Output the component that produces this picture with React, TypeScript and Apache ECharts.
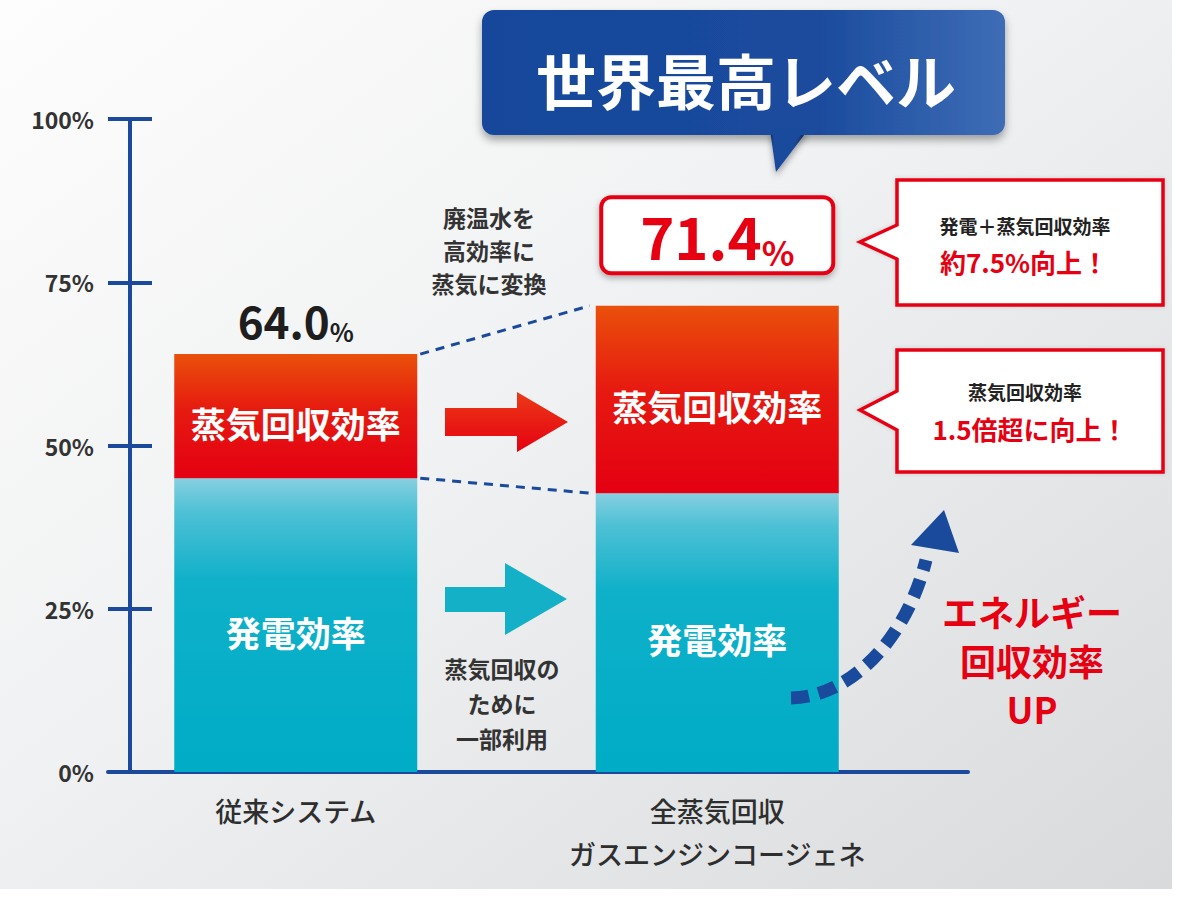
import React, { useEffect, useRef } from "react";
import * as echarts from "echarts";

const categories = ["従来システム", "全蒸気回収\nガスエンジンコージェネ"];
const powerEff = [45.0, 42.7];
const steamEff = [19.0, 28.7];
const totals = [64.0, 71.4];
const yMin = 0;
const yMax = 100;
const yStep = 25;
const upLines = ["エネルギー", "回収効率", "UP"];

const FONT = "'Noto Sans CJK JP', 'Noto Sans', sans-serif";
const NAVY = "#1b4a9c";
const RED = "#e60012";
const BAR_W = 243;

export default function App() {
  const ref = useRef<HTMLDivElement>(null);

  useEffect(() => {
    if (!ref.current) return;
    const chart = echarts.init(ref.current, undefined, { renderer: "svg" });

    const grad = (stops: [number, string][]) =>
      new echarts.graphic.LinearGradient(
        0, 0, 0, 1,
        stops.map(([offset, color]) => ({ offset, color }))
      );

    const upTexts = upLines.map((t, i) => ({
      type: "text",
      z: 101,
      style: {
        text: t,
        x: 1032,
        y: 611 + i * 48.5,
        textAlign: "center",
        textVerticalAlign: "middle",
        fill: RED,
        fontFamily: FONT,
        fontWeight: "bold",
        fontSize: 36,
      },
    }));

    const option: any = {
      animation: false,
      backgroundColor: "#ffffff",
      grid: [
        { left: 85, right: 252, top: 119, bottom: 144 },
        { left: 108, right: 212, top: 119, bottom: 144 },
      ],
      xAxis: [
        {
          type: "category",
          gridIndex: 0,
          data: categories,
          axisLine: { show: false },
          axisTick: { show: false },
          axisLabel: {
            margin: 17,
            color: "#2e2e2e",
            fontFamily: FONT,
            fontWeight: 500,
            fontSize: 27,
            lineHeight: 43,
          },
        },
        {
          type: "value",
          gridIndex: 1,
          min: 0,
          max: 1,
          axisLine: { show: true, onZero: false, lineStyle: { color: NAVY, width: 4 } },
          axisTick: { show: false },
          axisLabel: { show: false },
          splitLine: { show: false },
        },
      ],
      yAxis: [
        {
          type: "value",
          gridIndex: 0,
          min: yMin,
          max: yMax,
          interval: yStep,
          offset: -45,
          axisLine: { show: true, lineStyle: { color: NAVY, width: 4 } },
          axisTick: { show: true, length: 22, lineStyle: { color: NAVY, width: 4 } },
          splitLine: { show: false },
          axisLabel: {
            margin: 36,
            color: "#333",
            fontFamily: FONT,
            fontSize: 23,
            fontWeight: "bold",
            formatter: (v: number) => `${v}%`,
          },
        },
        {
          type: "value",
          gridIndex: 0,
          min: yMin,
          max: yMax,
          interval: yStep,
          offset: -45,
          position: "left",
          axisLine: { show: true, lineStyle: { color: NAVY, width: 4 } },
          axisTick: { show: true, inside: true, length: 22, lineStyle: { color: NAVY, width: 4 } },
          splitLine: { show: false },
          axisLabel: { show: false },
        },
        {
          type: "value",
          gridIndex: 1,
          min: 0,
          max: 1,
          show: false,
        },
      ],
      graphic: [
        {
          type: "rect",
          z: -100,
          silent: true,
          shape: { x: 0, y: 0, width: 1172, height: 889 },
          style: {
            fill: new echarts.graphic.LinearGradient(0, 0, 1, 1, [
              { offset: 0, color: "#fdfdfd" },
              { offset: 0.45, color: "#f0f1f2" },
              { offset: 1, color: "#d8dadc" },
            ]),
          },
        },
        // blue callout
        {
          type: "polygon",
          z: 100,
          shape: { points: [[770, 130], [808, 130], [776, 172]] },
          style: { fill: "#1a4a9b", shadowBlur: 6, shadowOffsetY: 4, shadowColor: "rgba(0,0,0,0.35)" },
        },
        {
          type: "rect",
          z: 101,
          shape: { x: 482, y: 10, width: 523, height: 125, r: 12 },
          style: {
            fill: new echarts.graphic.LinearGradient(0, 0, 1, 0, [
              { offset: 0, color: "#16479a" },
              { offset: 0.65, color: "#1b4c9e" },
              { offset: 1, color: "#3e6db6" },
            ]),
            shadowBlur: 8,
            shadowOffsetY: 5,
            shadowColor: "rgba(0,0,0,0.35)",
          },
        },
        {
          type: "polygon",
          z: 102,
          shape: { points: [[772, 128], [806, 128], [776, 170]] },
          style: { fill: "#1a4a9b" },
        },
        {
          type: "text",
          z: 103,
          style: {
            text: "世界最高レベル",
            x: 746,
            y: 78,
            textAlign: "center",
            textVerticalAlign: "middle",
            fill: "#ffffff",
            fontFamily: FONT,
            fontWeight: "bold",
            fontSize: 60,
          },
        },
        // red callout 1
        {
          type: "polygon",
          z: 100,
          shape: { points: [[897, 180], [1163, 180], [1163, 305], [897, 305], [897, 259], [860, 242], [897, 225]] },
          style: { fill: "#ffffff", stroke: RED, lineWidth: 3.5, shadowBlur: 4, shadowColor: "rgba(0,0,0,0.15)" },
        },
        {
          type: "text",
          z: 101,
          style: {
            text: "発電＋蒸気回収効率",
            x: 1025,
            y: 225,
            textAlign: "center",
            textVerticalAlign: "middle",
            fill: "#222",
            fontFamily: FONT,
            fontWeight: "bold",
            fontSize: 19,
          },
        },
        {
          type: "text",
          z: 101,
          style: {
            text: "約7.5%向上！",
            x: 1024,
            y: 261,
            textAlign: "center",
            textVerticalAlign: "middle",
            fill: RED,
            fontFamily: FONT,
            fontWeight: "bold",
            fontSize: 26,
          },
        },
        // red callout 2
        {
          type: "polygon",
          z: 100,
          shape: { points: [[897, 350], [1163, 350], [1163, 472], [897, 472], [897, 430], [860, 410], [897, 391]] },
          style: { fill: "#ffffff", stroke: RED, lineWidth: 3.5, shadowBlur: 4, shadowColor: "rgba(0,0,0,0.15)" },
        },
        {
          type: "text",
          z: 101,
          style: {
            text: "蒸気回収効率",
            x: 1025,
            y: 391,
            textAlign: "center",
            textVerticalAlign: "middle",
            fill: "#222",
            fontFamily: FONT,
            fontWeight: "bold",
            fontSize: 19,
          },
        },
        {
          type: "text",
          z: 101,
          style: {
            text: "1.5倍超に向上！",
            x: 1030,
            y: 428,
            textAlign: "center",
            textVerticalAlign: "middle",
            fill: RED,
            fontFamily: FONT,
            fontWeight: "bold",
            fontSize: 26,
          },
        },
        // middle annotations
        {
          type: "text",
          z: 101,
          style: {
            text: "廃温水を\n高効率に\n蒸気に変換",
            x: 489,
            y: 250,
            textAlign: "center",
            textVerticalAlign: "middle",
            fill: "#333",
            fontFamily: FONT,
            fontWeight: "bold",
            fontSize: 23,
            lineHeight: 33,
          },
        },
        {
          type: "text",
          z: 101,
          style: {
            text: "蒸気回収の\nために\n一部利用",
            x: 502,
            y: 703,
            textAlign: "center",
            textVerticalAlign: "middle",
            fill: "#333",
            fontFamily: FONT,
            fontWeight: "bold",
            fontSize: 23,
            lineHeight: 35,
          },
        },
        // arrows between bars
        {
          type: "polygon",
          z: 101,
          shape: { points: [[445, 408], [517, 408], [517, 392], [568, 422], [517, 452], [517, 436], [445, 436]] },
          style: { fill: new echarts.graphic.LinearGradient(0, 0, 0, 1, [
            { offset: 0, color: "#ec3a16" },
            { offset: 1, color: "#e50012" },
          ]) },
        },
        {
          type: "polygon",
          z: 101,
          shape: { points: [[445, 587], [505, 587], [505, 563], [567, 599], [505, 635], [505, 612], [445, 612]] },
          style: { fill: "#14b0c8" },
        },
        // dashed curved arrow
        {
          type: "bezierCurve",
          z: 101,
          shape: { x1: 791, y1: 698, cpx1: 850, cpy1: 697, cpx2: 906, cpy2: 640, x2: 926, y2: 560 },
          style: { stroke: "#1a4a9c", lineWidth: 13, lineDash: [18, 10], fill: null },
        },
        {
          type: "polygon",
          z: 101,
          shape: { points: [[944, 510], [911, 545], [959, 553]] },
          style: { fill: "#1a4a9c" },
        },
        ...upTexts,
      ],
      series: [
        {
          name: "発電効率",
          type: "bar",
          stack: "total",
          xAxisIndex: 0,
          yAxisIndex: 0,
          barWidth: BAR_W,
          data: powerEff,
          itemStyle: {
            color: grad([
              [0, "#86cfe0"],
              [0.12, "#4cc0d5"],
              [0.35, "#0fb0c9"],
              [1, "#00acc6"],
            ]),
          },
          label: {
            show: true,
            position: "inside",
            offset: [0, 6],
            formatter: () => "発電効率",
            color: "#ffffff",
            fontFamily: FONT,
            fontWeight: "bold",
            fontSize: 35,
          },
        },
        {
          name: "蒸気回収効率",
          type: "bar",
          stack: "total",
          xAxisIndex: 0,
          yAxisIndex: 0,
          barWidth: BAR_W,
          data: steamEff,
          itemStyle: {
            color: grad([
              [0, "#ea500b"],
              [0.45, "#e61a10"],
              [1, "#e40012"],
            ]),
          },
          label: {
            show: true,
            position: "inside",
            offset: [0, 6],
            formatter: () => "蒸気回収効率",
            color: "#ffffff",
            fontFamily: FONT,
            fontWeight: "bold",
            fontSize: 35,
          },
        },
        {
          name: "合計",
          type: "scatter",
          xAxisIndex: 0,
          yAxisIndex: 0,
          symbolSize: 1,
          itemStyle: { color: "rgba(0,0,0,0)", opacity: 1 },
          z: 10,
          data: [
            {
              value: [0, totals[0]],
              label: {
                show: true,
                position: "top",
                distance: 10,
                opacity: 1,
                formatter: `{a|${totals[0].toFixed(1)}}{b|%}`,
                rich: {
                  a: { fontFamily: FONT, fontWeight: "bold", fontSize: 44, color: "#1e1e1e", lineHeight: 48 },
                  b: { fontFamily: FONT, fontWeight: "bold", fontSize: 25, color: "#1e1e1e", lineHeight: 38, verticalAlign: "bottom" },
                },
              },
            },
            {
              value: [1, totals[1]],
              label: {
                show: true,
                position: "top",
                distance: 34,
                opacity: 1,
                formatter: `{a|${totals[1].toFixed(1)}}{b|%}`,
                backgroundColor: "#ffffff",
                borderColor: RED,
                borderWidth: 4,
                borderRadius: 8,
                width: 228,
                align: "center",
                padding: [3, 0, 3, 0],
                shadowBlur: 6,
                shadowOffsetY: 3,
                shadowColor: "rgba(0,0,0,0.3)",
                rich: {
                  a: { fontFamily: FONT, fontWeight: "bold", fontSize: 58, color: RED, lineHeight: 66 },
                  b: { fontFamily: FONT, fontWeight: "bold", fontSize: 34, color: RED, lineHeight: 52, verticalAlign: "bottom" },
                },
              },
            },
          ],
        },
        {
          name: "connector",
          type: "custom",
          xAxisIndex: 0,
          yAxisIndex: 0,
          z: 5,
          data: [[0, 0]],
          renderItem: (_params: any, api: any) => {
            const half = BAR_W / 2;
            const a1 = api.coord([0, totals[0]]);
            const a2 = api.coord([1, totals[1]]);
            const b1 = api.coord([0, powerEff[0]]);
            const b2 = api.coord([1, powerEff[1]]);
            const style = { stroke: NAVY, lineWidth: 3, lineDash: [9, 7], fill: null };
            return {
              type: "group",
              children: [
                { type: "line", shape: { x1: a1[0] + half + 3, y1: a1[1], x2: a2[0] - half - 6, y2: a2[1] }, style },
                { type: "line", shape: { x1: b1[0] + half + 3, y1: b1[1], x2: b2[0] - half - 6, y2: b2[1] }, style },
              ],
            };
          },
        },
      ],
    };

    chart.setOption(option);
    return () => chart.dispose();
  }, []);

  return (
    <div
      ref={ref}
      style={{ position: "fixed", left: 0, top: 0, width: 1180, height: 916 }}
    />
  );
}
